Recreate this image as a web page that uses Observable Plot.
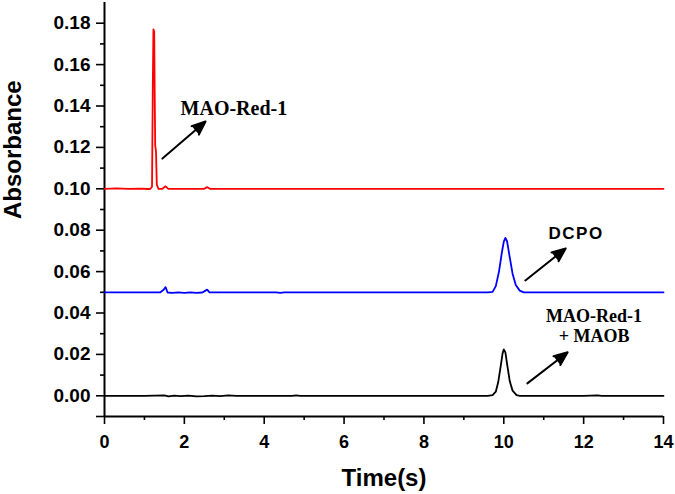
<!DOCTYPE html>
<html>
<head>
<meta charset="utf-8">
<script src="https://cdn.jsdelivr.net/npm/d3@7"></script>
<script src="https://cdn.jsdelivr.net/npm/@observablehq/plot@0.6"></script>
<style>
  html, body { margin: 0; padding: 0; background: white; }
</style>
</head>
<body>
<div id="chart"></div>
<script>
// ---- Data ----
const redTime  = [0, 0.3, 0.6, 0.9, 1.1, 1.15, 1.19, 1.21, 1.225, 1.245, 1.26, 1.27, 1.29, 1.31, 1.35, 1.45, 1.53, 1.6, 1.8, 2.2, 2.5, 2.57, 2.64, 3.0, 5.0, 8.0, 11.0, 14.0];
const redAbs   = [0.1, 0.1002, 0.1, 0.1001, 0.0999, 0.1, 0.101, 0.15, 0.177, 0.176, 0.14, 0.121, 0.118, 0.102, 0.1, 0.1, 0.1012, 0.1, 0.1, 0.1, 0.1, 0.1008, 0.1, 0.1, 0.1, 0.1, 0.1, 0.1];

const blueTime = [0, 0.5, 1.0, 1.4, 1.48, 1.53, 1.58, 1.7, 1.85, 2.0, 2.15, 2.3, 2.45, 2.52, 2.57, 2.63, 2.8, 4.3, 4.4, 4.5, 7.0, 9.6, 9.72, 9.8, 9.88, 9.95, 10.0, 10.04, 10.08, 10.14, 10.22, 10.3, 10.4, 10.5, 12.0, 14.0];
const blueAbs  = [0.05, 0.05, 0.05, 0.05, 0.0512, 0.0525, 0.0499, 0.0497, 0.05, 0.0497, 0.05, 0.0497, 0.0499, 0.0507, 0.0513, 0.05, 0.05, 0.05, 0.0497, 0.05, 0.05, 0.05, 0.0502, 0.053, 0.06, 0.069, 0.0745, 0.0763, 0.0748, 0.068, 0.059, 0.0535, 0.0508, 0.05, 0.05, 0.05];

const blackTime = [0, 0.5, 1.0, 1.5, 1.6, 1.75, 1.9, 2.1, 2.3, 2.5, 2.7, 2.9, 3.1, 3.3, 4.7, 4.8, 4.9, 7.0, 9.6, 9.72, 9.8, 9.86, 9.92, 9.97, 10.0, 10.04, 10.09, 10.15, 10.22, 10.32, 10.4, 12.0, 12.35, 12.45, 14.0];
const blackAbs  = [0, 0, 0, 0.0002, -0.0003, 0.0001, -0.0002, 0.0001, -0.0003, -0.0002, 0.0001, -0.0002, 0.0002, 0, 0, 0.0002, 0, 0, 0, 0.0003, 0.002, 0.0065, 0.014, 0.0205, 0.0224, 0.021, 0.0145, 0.007, 0.0025, 0.0003, 0, 0, 0.0002, 0, 0];

const xMajorTicks = [0, 2, 4, 6, 8, 10, 12, 14];
const xMinorTicks = [1, 3, 5, 7, 9, 11, 13];
const yMajorTicks = [0, 0.02, 0.04, 0.06, 0.08, 0.10, 0.12, 0.14, 0.16, 0.18];
const yExtraTicks = [-0.01];
const yMinorTicks = [0.01, 0.03, 0.05, 0.07, 0.09, 0.11, 0.13, 0.15, 0.17];

// annotations
const arrowX1 = [1.45, 10.54, 10.59];
const arrowY1 = [0.1146, 0.0557, 0.006];
const arrowX2 = [2.53, 11.55, 11.6];
const arrowY2 = [0.1325, 0.0712, 0.021];

const serifLabels = ["MAO-Red-1", "MAO-Red-1\n+ MAOB"];
const serifLabelX = [3.24, 12.26];
const serifLabelY = [0.1388, 0.034];
const serifLabelSize = [20, 18];
const sansLabels  = ["DCPO"];
const sansLabelX  = [11.81];
const sansLabelY  = [0.0783];

// ---- Tables built from the arrays ----
const series = [
  ...redTime.map((t, i) => ({t, v: redAbs[i], s: "red"})),
  ...blueTime.map((t, i) => ({t, v: blueAbs[i], s: "blue"})),
  ...blackTime.map((t, i) => ({t, v: blackAbs[i], s: "black"}))
];
const arrows = arrowX1.map((x, i) => ({x1: x, y1: arrowY1[i], x2: arrowX2[i], y2: arrowY2[i]}));
const serifText = serifLabels.map((text, i) => ({text, x: serifLabelX[i], y: serifLabelY[i], size: serifLabelSize[i]}));
const sansText = sansLabels.map((text, i) => ({text, x: sansLabelX[i], y: sansLabelY[i]}));

const colors = {red: "#f01414", blue: "#1414e6", black: "#000000"};

const chart = Plot.plot({
  width: 675,
  height: 494,
  marginLeft: 104,
  marginRight: 12,
  marginTop: 2,
  marginBottom: 78,
  style: {fontFamily: "Arial, 'Liberation Sans', sans-serif", fontWeight: "bold", background: "white", color: "black", overflow: "visible"},
  x: {domain: [0, 14], label: null},
  y: {domain: [-0.01, 0.19], label: null},
  color: {domain: ["red", "blue", "black"], range: [colors.red, colors.blue, colors.black]},
  marks: [
    // axes
    Plot.axisX(xMajorTicks, {tickSize: 8, tickPadding: 11, fontSize: 18, fontWeight: "bold", strokeWidth: 1.6, label: null}),
    Plot.axisX(xMinorTicks, {tickSize: 4, tickFormat: () => "", strokeWidth: 1.6, label: null}),
    Plot.axisY(yMajorTicks, {tickSize: 8, tickPadding: 6, fontSize: 19, fontWeight: "bold", strokeWidth: 1.6, tickFormat: d3.format(".2f"), label: null}),
    Plot.axisY(yExtraTicks, {tickSize: 8, tickFormat: () => "", strokeWidth: 1.6, label: null}),
    Plot.axisY(yMinorTicks, {tickSize: 4, tickFormat: () => "", strokeWidth: 1.6, label: null}),
    Plot.ruleX([0], {strokeWidth: 2}),
    Plot.ruleY([-0.01], {strokeWidth: 2}),
    // data
    Plot.line(series, {x: "t", y: "v", z: "s", stroke: "s", strokeWidth: 1.8, curve: "linear"}),
    // arrows
    Plot.arrow(arrows, {x1: "x1", y1: "y1", x2: "x2", y2: "y2", stroke: "black", fill: "black", strokeWidth: 2, headLength: 11, headAngle: 45}),
    // annotation text
    Plot.text(serifText.slice(0, 1), {x: "x", y: "y", text: "text", fontFamily: "'Liberation Serif', 'Times New Roman', serif", fontSize: 20, fontWeight: "bold", fill: "black"}),
    Plot.text(serifText.slice(1), {x: "x", y: "y", text: "text", lineHeight: 1.12, fontFamily: "'Liberation Serif', 'Times New Roman', serif", fontSize: 18, fontWeight: "bold", fill: "black"}),
    Plot.text(sansText, {x: "x", y: "y", text: "text", fontFamily: "Arial, 'Liberation Sans', sans-serif", fontSize: 17, fontWeight: "bold", fill: "black"}),
    // axis titles
    Plot.text(["Absorbance"], {frameAnchor: "left", lineAnchor: "middle", dx: -91, dy: 9.5, rotate: -90, fontSize: 24, fontWeight: "bold", fill: "black"}),
    Plot.text(["Time(s)"], {frameAnchor: "bottom", lineAnchor: "middle", dy: 62, fontSize: 24, fontWeight: "bold", fill: "black"})
  ]
});

document.getElementById("chart").appendChild(chart);
d3.select(chart).selectAll("text").filter(function() { return this.textContent === "DCPO"; }).attr("letter-spacing", "1.5px");
</script>
</body>
</html>
